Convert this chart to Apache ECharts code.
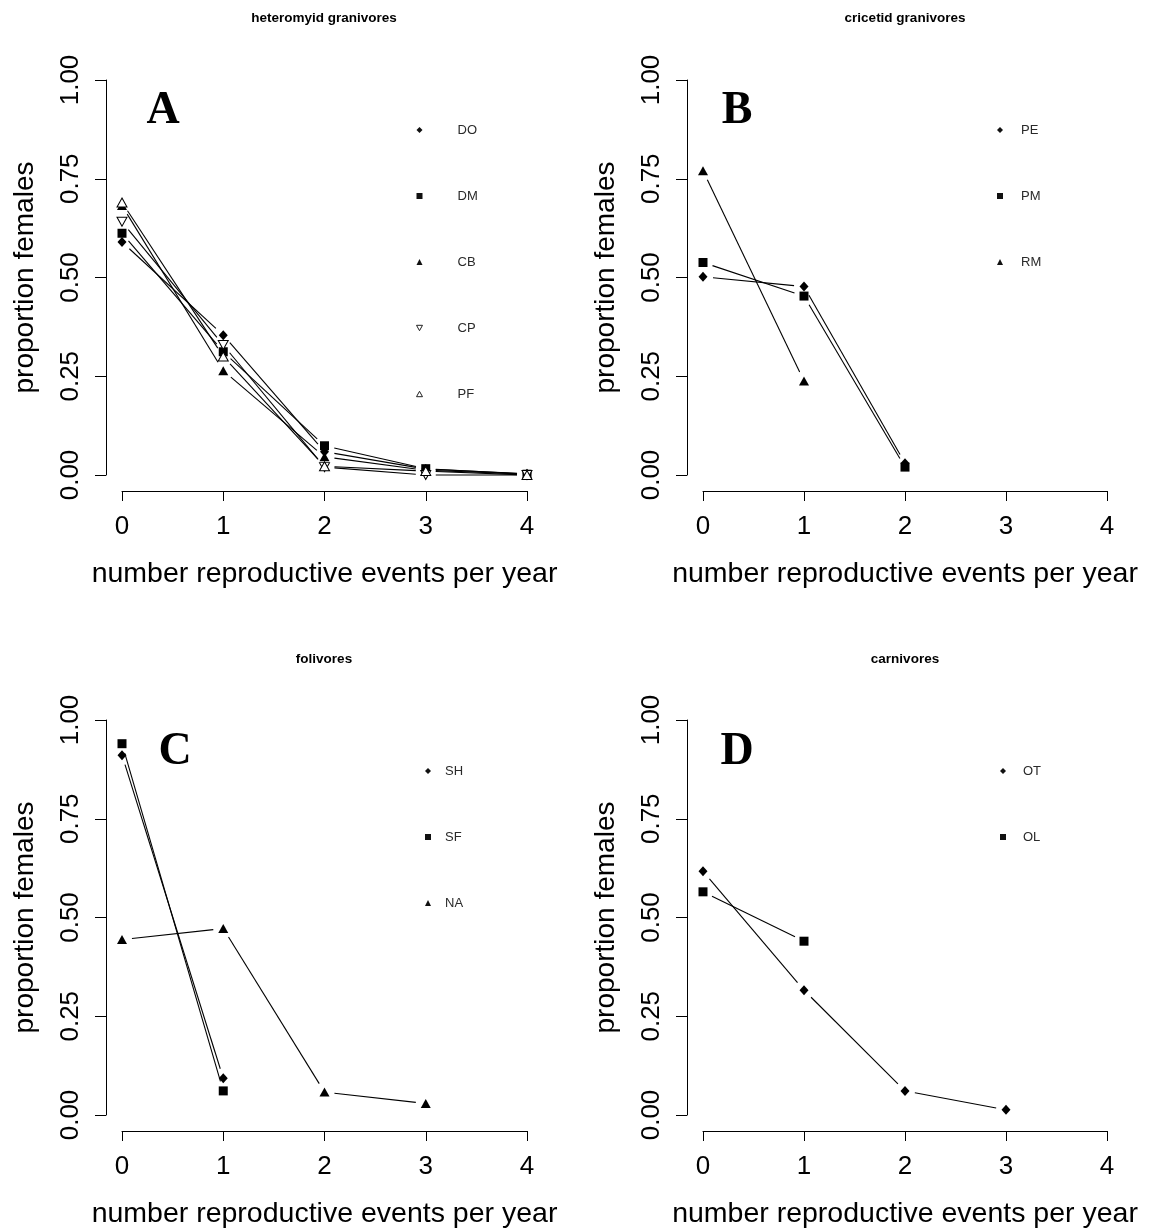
<!DOCTYPE html>
<html>
<head>
<meta charset="utf-8">
<script src="https://cdn.jsdelivr.net/npm/echarts@6/dist/echarts.min.js"></script>
<style>
html,body{margin:0;padding:0;background:#fff;}
#chart{width:1152px;height:1230px;}
</style>
</head>
<body>
<div id="chart"></div>
<script>
// ---- data ----
const xEvents = [0, 1, 2, 3, 4];
const xTicks = [0, 1, 2, 3, 4];
const yTicks = [0, 0.25, 0.5, 0.75, 1.0];

const panelTitles = ['heteromyid granivores', 'cricetid granivores', 'folivores', 'carnivores'];
const panelLetters = ['A', 'B', 'C', 'D'];

// Panel A: heteromyid granivores
const DO = [0.590, 0.354, 0.059, 0.015, 0.003];
const DM = [0.612, 0.312, 0.074, 0.016, 0.002];
const CB = [0.682, 0.264, 0.046, 0.012, 0.002];
const CP = [0.641, 0.329, 0.020, 0.000, 0.000];
const PF = [0.690, 0.300, 0.022, 0.010, 0.000];
// Panel B: cricetid granivores
const PE = [0.502, 0.477, 0.030];
const PM = [0.538, 0.453, 0.020];
const RM = [0.770, 0.238];
// Panel C: folivores
const SH = [0.911, 0.093];
const SF = [0.940, 0.061];
const NA = [0.444, 0.472, 0.058, 0.029];
// Panel D: carnivores
const OT = [0.617, 0.316, 0.061, 0.013];
const OL = [0.565, 0.440];

// ---- layout / style ----
const FONT = "'Liberation Sans', Arial, sans-serif";
const SERIF = "'Liberation Serif', 'Times New Roman', serif";
const grids = [
  {left: 122, top: 80, width: 405, height: 395},
  {left: 703, top: 80, width: 404, height: 395},
  {left: 122, top: 720, width: 405, height: 395},
  {left: 703, top: 720, width: 404, height: 395}
];
const titlePos = [[324, 18], [905, 18], [324, 659], [905, 659]];
const letterPos = [[163, 111], [737, 111], [175, 752], [737, 752]];
// [symbol-centre x - 3, top of first row, text padding]
const legendPos = [[416, 123, 30], [997, 123, 13], [425, 764, 9], [1000, 764, 12]];

const SYM = {
  diamond: {symbol: 'diamond', size: [9, 10], fill: '#000', rot: 0, icon: 'diamond', open: false},
  square: {symbol: 'rect', size: [9, 9], fill: '#000', rot: 0, icon: 'rect', open: false},
  tri: {symbol: 'triangle', size: [10, 9], fill: '#000', rot: 0, icon: 'triangle', open: false},
  triDownOpen: {symbol: 'triangle', size: [10, 9], fill: '#fff', rot: 180, icon: 'path://M0,0L10,0L5,9Z', open: true},
  triOpen: {symbol: 'triangle', size: [10, 9], fill: '#fff', rot: 0, icon: 'path://M5,0L10,9L0,9Z', open: true}
};

const panels = [
  [['DO', DO, 'diamond'], ['DM', DM, 'square'], ['CB', CB, 'tri'], ['CP', CP, 'triDownOpen'], ['PF', PF, 'triOpen']],
  [['PE', PE, 'diamond'], ['PM', PM, 'square'], ['RM', RM, 'tri']],
  [['SH', SH, 'diamond'], ['SF', SF, 'square'], ['NA', NA, 'tri']],
  [['OT', OT, 'diamond'], ['OL', OL, 'square']]
];

const GAP = 10;
function renderSeg(params, api) {
  const a = api.coord([api.value(0), api.value(1)]);
  const b = api.coord([api.value(2), api.value(3)]);
  const dx = b[0] - a[0], dy = b[1] - a[1];
  const L = Math.hypot(dx, dy);
  if (L <= 2 * GAP) return null;
  const ux = dx / L, uy = dy / L;
  return {
    type: 'line',
    shape: {x1: a[0] + ux * GAP, y1: a[1] + uy * GAP, x2: b[0] - ux * GAP, y2: b[1] - uy * GAP},
    style: {stroke: '#000', lineWidth: 1.1}
  };
}

const xAxes = [], yAxes = [], series = [], legends = [], graphics = [];
grids.forEach((g, i) => {
  xAxes.push({
    gridIndex: i, type: 'value', min: 0, max: 4, interval: 1, offset: 16,
    splitLine: {show: false},
    axisLine: {show: true, onZero: false, lineStyle: {color: '#000', width: 1}},
    axisTick: {show: true, length: 10, lineStyle: {color: '#000', width: 1}},
    axisLabel: {color: '#000', fontSize: 26, fontFamily: FONT, margin: 23, formatter: v => String(v)},
    name: 'number reproductive events per year', nameLocation: 'middle', nameGap: 69,
    nameTextStyle: {color: '#000', fontSize: 28.5, fontFamily: FONT}
  });
  yAxes.push({
    gridIndex: i, type: 'value', min: 0, max: 1, interval: 0.25, offset: 16,
    splitLine: {show: false},
    axisLine: {show: true, onZero: false, lineStyle: {color: '#000', width: 1}},
    axisTick: {show: true, length: 11, lineStyle: {color: '#000', width: 1}},
    axisLabel: {color: '#000', fontSize: 26, fontFamily: FONT, margin: 22, rotate: 90, formatter: v => v.toFixed(2)},
    name: 'proportion females', nameLocation: 'middle', nameGap: 67, nameRotate: 90,
    nameTextStyle: {color: '#000', fontSize: 28, fontFamily: FONT}
  });
  const legendData = [];
  panels[i].forEach(([name, ys, symKey]) => {
    const s = SYM[symKey];
    const pts = ys.map((y, k) => [xEvents[k], y]);
    const segs = [];
    for (let k = 0; k < ys.length - 1; k++) segs.push([xEvents[k], ys[k], xEvents[k + 1], ys[k + 1]]);
    series.push({
      type: 'custom', name: name + '_line', xAxisIndex: i, yAxisIndex: i,
      renderItem: renderSeg, data: segs, encode: {x: [0, 2], y: [1, 3]},
      silent: true, clip: false, z: 2
    });
    series.push({
      type: 'scatter', name: name, xAxisIndex: i, yAxisIndex: i,
      data: pts, symbol: s.symbol, symbolSize: s.size, symbolRotate: s.rot,
      itemStyle: {color: s.fill, borderColor: '#000', borderWidth: s.open ? 1 : 0, opacity: 1},
      clip: false, z: 3
    });
    legendData.push({
      name: name, icon: s.icon,
      itemStyle: s.open ? {color: '#fff', borderColor: '#222', borderWidth: 1} : {color: '#111', borderWidth: 0}
    });
  });
  legends.push({
    data: legendData, orient: 'vertical', left: legendPos[i][0], top: legendPos[i][1],
    padding: 0, itemWidth: 6, itemHeight: 6, itemGap: 52, selectedMode: false,
    textStyle: {color: '#2a2a2a', fontSize: 13, fontFamily: FONT, lineHeight: 14, padding: [0, 0, 0, legendPos[i][2]]}
  });
  graphics.push({
    type: 'text', x: titlePos[i][0], y: titlePos[i][1],
    style: {text: panelTitles[i], font: 'bold 13.5px ' + FONT, fill: '#000', align: 'center', verticalAlign: 'middle'}
  });
  graphics.push({
    type: 'text', x: letterPos[i][0], y: letterPos[i][1],
    style: {text: panelLetters[i], font: 'bold 46px ' + SERIF, fill: '#000', align: 'center', verticalAlign: 'middle'}
  });
});

const chart = echarts.init(document.getElementById('chart'), null, {renderer: 'canvas'});
chart.setOption({
  animation: false,
  backgroundColor: '#fff',
  grid: grids,
  xAxis: xAxes,
  yAxis: yAxes,
  legend: legends,
  series: series,
  graphic: graphics
});
</script>
</body>
</html>
